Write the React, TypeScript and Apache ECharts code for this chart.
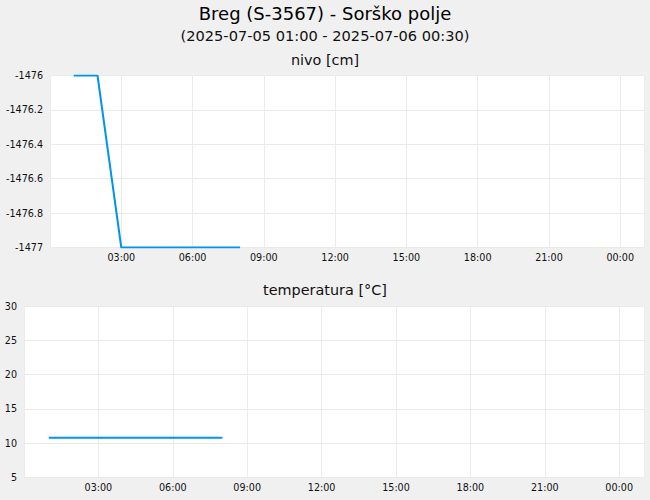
import { useEffect, useRef } from "react";
import * as echarts from "echarts";

const DAY = "2025-07-05";
const times = ["01:00", "02:00", "03:00", "04:00", "05:00", "06:00", "07:00", "08:00"];
const nivo = [-1476, -1476, -1477, -1477, -1477, -1477, -1477, -1477];
const temperatura = [10.8, 10.8, 10.8, 10.8, 10.8, 10.8, 10.8, 10.8];

const axisStart = "2025-07-05 00:00";
const axisEnd = "2025-07-06 01:00";

const HOUR = 3600 * 1000;
const FONT = "DejaVu Sans";

function toMs(s: string) {
  const [d, t] = s.split(" ");
  const [y, m, dd] = d.split("-").map(Number);
  const [hh, mm] = t.split(":").map(Number);
  return Date.UTC(y, m - 1, dd, hh, mm);
}

function hhmm(v: number) {
  const d = new Date(v);
  const pad = (n: number) => String(n).padStart(2, "0");
  return pad(d.getUTCHours()) + ":" + pad(d.getUTCMinutes());
}

export default function App() {
  const ref = useRef<HTMLDivElement | null>(null);

  useEffect(() => {
    if (!ref.current) return;
    const chart = echarts.init(ref.current, undefined, { renderer: "svg" });

    const xs = times.map((t) => toMs(DAY + " " + t));
    const min = toMs(axisStart);
    const max = toMs(axisEnd);

    const xAxisBase = {
      type: "value" as const,
      min,
      max,
      interval: 3 * HOUR,
      axisLine: { show: false },
      axisTick: { show: false },
      splitLine: { lineStyle: { color: "#ebebeb", width: 1 } },
      axisLabel: {
        formatter: hhmm,
        showMinLabel: false,
        showMaxLabel: false,
        margin: 5,
        fontSize: 9.6,
        fontFamily: FONT,
        color: "#111"
      }
    };
    const yLabel = { margin: 7, fontSize: 9.6, fontFamily: FONT, color: "#111" };

    chart.setOption({
      animation: false,
      backgroundColor: "#f0f0f0",
      textStyle: { fontFamily: FONT },
      title: [
        { text: "Breg (S-3567) - Sorško polje", left: "center", top: 4, padding: 0, textStyle: { fontSize: 18, fontWeight: "normal", color: "#000", fontFamily: FONT } },
        { text: "(2025-07-05 01:00 - 2025-07-06 00:30)", left: "center", top: 28, padding: 0, textStyle: { fontSize: 14.6, fontWeight: "normal", color: "#111", fontFamily: FONT } },
        { text: "nivo [cm]", left: "center", top: 53, padding: 0, textStyle: { fontSize: 14.4, fontWeight: "normal", color: "#111", fontFamily: FONT } },
        { text: "temperatura [°C]", left: "center", top: 283, padding: 0, textStyle: { fontSize: 14.4, fontWeight: "normal", color: "#111", fontFamily: FONT } }
      ],
      grid: [
        { left: 50, right: 6, top: 75.5, height: 172, show: true, backgroundColor: "#fff", borderWidth: 0 },
        { left: 24, right: 6, top: 306, height: 171.5, show: true, backgroundColor: "#fff", borderWidth: 0 }
      ],
      xAxis: [
        { ...xAxisBase, gridIndex: 0 },
        { ...xAxisBase, gridIndex: 1 }
      ],
      yAxis: [
        {
          type: "value",
          gridIndex: 0,
          min: -1477,
          max: -1476,
          interval: 0.2,
          axisLine: { show: false },
          axisTick: { show: false },
          splitLine: { lineStyle: { color: "#ebebeb" } },
          axisLabel: { ...yLabel, formatter: (v: number) => String(Math.round(v * 10) / 10) }
        },
        {
          type: "value",
          gridIndex: 1,
          min: 5,
          max: 30,
          interval: 5,
          axisLine: { show: false },
          axisTick: { show: false },
          splitLine: { lineStyle: { color: "#ebebeb" } },
          axisLabel: yLabel
        }
      ],
      series: [
        {
          type: "line",
          name: "nivo",
          xAxisIndex: 0,
          yAxisIndex: 0,
          data: xs.map((x, i) => [x, nivo[i]]),
          showSymbol: false,
          lineStyle: { color: "#0094ee", width: 2 }
        },
        {
          type: "line",
          name: "temperatura",
          xAxisIndex: 1,
          yAxisIndex: 1,
          data: xs.map((x, i) => [x, temperatura[i]]),
          showSymbol: false,
          lineStyle: { color: "#0094ee", width: 2 }
        }
      ]
    });

    return () => {
      chart.dispose();
    };
  }, []);

  return <div ref={ref} style={{ position: "fixed", left: 0, top: 0, width: 650, height: 500 }} />;
}
